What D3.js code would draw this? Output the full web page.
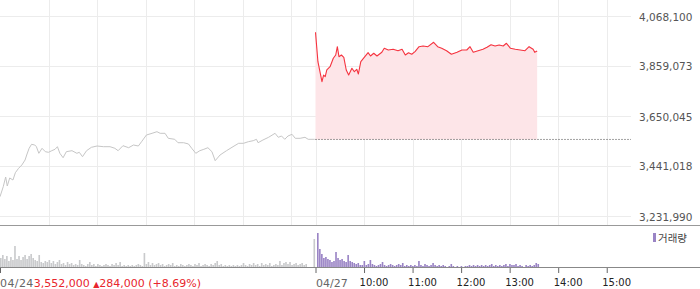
<!DOCTYPE html>
<html>
<head>
<meta charset="utf-8">
<script src="https://cdn.jsdelivr.net/npm/d3@7"></script>
<style>
  body { margin: 0; background: #fff; }
  svg { display: block; font-family: "DejaVu Sans", sans-serif; }
</style>
</head>
<body>
<svg id="chart" width="700" height="289"></svg>
<script>
// labels
const prevDayLabel = '04/24';
const todayLabel = '04/27';
const hourLabels = ['10:00', '11:00', '12:00', '13:00', '14:00', '15:00'];
const priceTicks = [3231990, 3441018, 3650045, 3859073, 4068100];
const basePrice = 3552000;
const lastPrice = '3,552,000';
const changeAbs = '284,000';
const changePct = '(+8.69%)';
const legendLabel = '거래량';

// minutes since 09:00, one session = 390 min
const prevTimes = [0, 4, 7, 9, 12, 16, 19, 23, 27, 31, 33, 36, 39, 43, 45, 48, 52, 56, 60, 64,
  68, 71, 74, 78, 82, 89, 95, 98, 102, 107, 113, 120, 128, 136, 142, 146, 152, 159, 165, 171,
  175, 181, 188, 194, 198, 204, 208, 216, 220, 227, 233, 237, 242, 247, 252, 257, 262, 266, 272, 280,
  288, 295, 301, 307, 313, 317, 319, 325, 332, 340, 344, 348, 352, 356, 361, 365, 371, 377, 381, 389];
const prevPrices = [3312700, 3354500, 3395000, 3357400, 3390900, 3382500, 3413000, 3431400, 3445200, 3466100,
  3487000, 3515000, 3531700, 3528800, 3521700, 3494100, 3515000, 3500800, 3498300, 3505000,
  3510800, 3521700, 3494100, 3475700, 3500800, 3505000, 3494100, 3498300, 3479900, 3505000,
  3519200, 3524600, 3521700, 3521700, 3515000, 3505000, 3525900, 3517500, 3528800, 3524600,
  3542600, 3570600, 3577700, 3584400, 3577700, 3577700, 3556800, 3552600, 3538400, 3538400,
  3533000, 3515000, 3494100, 3505000, 3510800, 3517500, 3500800, 3463200, 3487000, 3505000,
  3521700, 3535900, 3535900, 3542600, 3546800, 3552600, 3538400, 3549700, 3561000, 3577700,
  3561000, 3566400, 3552600, 3566400, 3573500, 3556800, 3556800, 3561000, 3552600, 3552600];

const todayTimes = [0, 3, 8, 10, 12, 14, 18, 22, 25, 27, 29, 32, 35, 38, 41, 45, 48, 51, 53, 56,
  61, 65, 68, 72, 76, 82, 85, 90, 96, 102, 107, 111, 115, 119, 123, 128, 133, 139, 146, 151,
  156, 162, 168, 175, 181, 187, 191, 195, 201, 207, 212, 217, 222, 227, 232, 236, 241, 247, 253, 259,
  264, 269, 271, 274];
const todayPrices = [4000000, 3877000, 3793400, 3821400, 3814300, 3842400, 3856100, 3891300, 3905100, 3939800,
  3898000, 3905100, 3895400, 3842400, 3821400, 3849500, 3835200, 3845300, 3825600, 3877000,
  3898000, 3914700, 3900900, 3912200, 3900900, 3916300, 3933100, 3926000, 3928900, 3923000,
  3928900, 3905100, 3914700, 3908000, 3918900, 3939800, 3942700, 3939800, 3958200, 3939800,
  3933100, 3923000, 3908000, 3916300, 3926000, 3926000, 3939800, 3916300, 3923000, 3928900,
  3937200, 3948100, 3942700, 3946900, 3942700, 3954000, 3933100, 3928900, 3926000, 3923000,
  3939800, 3928900, 3916300, 3921800];

// volume per 2.5 min bucket (thousands)
const volStep = 2.5;
const prevVolumes = [10, 13, 9, 12, 7, 11, 8, 22, 9, 12,
  8, 11, 13, 9, 12, 14, 10, 8, 7, 13,
  6, 5, 7, 6, 8, 5, 7, 4, 6, 8,
  4, 5, 3, 6, 4, 5, 3, 4, 3, 8,
  4, 3, 2, 4, 6, 3, 4, 2, 4, 3,
  2, 3, 4, 3, 2, 4, 3, 5, 3, 6,
  2, 3, 2, 3, 2, 3, 2, 3, 4, 3,
  2, 15, 4, 6, 3, 5, 3, 4, 5, 3,
  4, 2, 3, 4, 3, 5, 2, 3, 2, 4,
  3, 2, 3, 4, 3, 2, 4, 3, 5, 2,
  3, 4, 3, 2, 4, 3, 5, 7, 3, 4,
  2, 3, 2, 3, 2, 3, 2, 3, 2, 3,
  5, 3, 2, 4, 3, 5, 3, 4, 2, 5,
  3, 4, 3, 5, 2, 3, 4, 3, 7, 3,
  5, 6, 4, 6, 3, 4, 5, 3, 4, 5,
  3, 4, 0, 0, 0, 29];
const todayVolumes = [35, 19, 14, 10, 11, 9, 8, 6, 7, 16,
  10, 8, 9, 7, 6, 13, 7, 6, 5, 4,
  5, 3, 3, 7, 3, 4, 8, 4, 3, 2,
  3, 4, 6, 3, 2, 3, 4, 3, 2, 3,
  4, 3, 5, 2, 3, 2, 3, 2, 3, 2,
  7, 3, 2, 4, 3, 2, 3, 5, 3, 2,
  3, 2, 3, 2, 1, 2, 4, 2, 1, 2,
  1, 2, 1, 2, 2, 3, 2, 3, 2, 3,
  2, 3, 2, 3, 2, 3, 4, 2, 3, 2,
  3, 2, 3, 4, 2, 4, 3, 3, 4, 2,
  3, 2, 1, 3, 2, 3, 2, 3, 5, 4];

const session = 390;
const plotRight = 631;
const svg = d3.select('#chart');

const x = d3.scaleLinear().domain([0, session * 2]).range([0, plotRight]);
const y = d3.scaleLinear().domain([priceTicks[0], priceTicks[4]]).range([216, 16]);
const yv = d3.scaleLinear().domain([0, 41]).range([268, 227]);

const hourGrid = [60, 120, 180, 240, 300, 360, 390, 450, 510, 570, 630, 690, 750];

// grid
svg.append('g')
  .attr('stroke', '#ececec')
  .selectAll('line')
  .data(hourGrid)
  .join('line')
  .attr('x1', (d) => Math.round(x(d)) + 0.5)
  .attr('x2', (d) => Math.round(x(d)) + 0.5)
  .attr('y1', 0)
  .attr('y2', 225);

svg.append('g')
  .attr('stroke', '#ececec')
  .selectAll('line')
  .data(priceTicks)
  .join('line')
  .attr('x1', 0)
  .attr('x2', plotRight)
  .attr('y1', (d) => Math.round(y(d)) + 0.5)
  .attr('y2', (d) => Math.round(y(d)) + 0.5);

const prevData = d3.zip(prevTimes, prevPrices);
const todayData = d3.zip(todayTimes, todayPrices);

const line = d3.line()
  .x((d) => x(d[0]))
  .y((d) => y(d[1]));

// today's fill to base price
svg.append('path')
  .datum(todayData)
  .attr('fill', '#fde5e8')
  .attr('d', d3.area()
    .x((d) => x(d[0] + session))
    .y0(y(basePrice))
    .y1((d) => y(d[1])));

svg.append('line')
  .attr('x1', x(session))
  .attr('x2', plotRight)
  .attr('y1', y(basePrice))
  .attr('y2', y(basePrice))
  .attr('stroke', '#444')
  .attr('stroke-dasharray', '1,2');

svg.append('path')
  .datum(prevData)
  .attr('fill', 'none')
  .attr('stroke', '#c6c6c6')
  .attr('stroke-width', 1)
  .attr('d', line);

svg.append('path')
  .datum(todayData)
  .attr('fill', 'none')
  .attr('stroke', '#f5333f')
  .attr('stroke-width', 1.1)
  .attr('stroke-linejoin', 'round')
  .attr('d', d3.line().x((d) => x(d[0] + session)).y((d) => y(d[1])));

// price labels
svg.append('g')
  .attr('transform', 'translate(639,0)')
  .call(d3.axisRight(y).tickValues(priceTicks).tickSize(0).tickPadding(0).tickFormat(d3.format(',')))
  .call((g) => g.select('.domain').remove())
  .call((g) => g.selectAll('text')
    .attr('font-family', '"DejaVu Sans", sans-serif')
    .attr('font-size', 10.5)
    .attr('fill', '#555')
    .attr('dy', '0.38em'));

// panel divider
svg.append('line')
  .attr('x1', 0).attr('x2', 700)
  .attr('y1', 225.5).attr('y2', 225.5)
  .attr('stroke', '#999');

// volume
const barW = x(volStep) - x(0);
svg.append('g')
  .attr('fill', '#c9cacc')
  .selectAll('rect')
  .data(prevVolumes)
  .join('rect')
  .attr('x', (d, i) => x(i * volStep))
  .attr('width', barW - 0.4)
  .attr('y', (d) => yv(d))
  .attr('height', (d) => yv(0) - yv(d));

svg.append('g')
  .attr('fill', '#9a84c5')
  .selectAll('rect')
  .data(todayVolumes)
  .join('rect')
  .attr('x', (d, i) => x(session + i * volStep) + 1.5)
  .attr('width', barW - 0.4)
  .attr('y', (d) => yv(d))
  .attr('height', (d) => yv(0) - yv(d));

// legend
svg.append('rect')
  .attr('x', 653).attr('y', 233)
  .attr('width', 3).attr('height', 9)
  .attr('fill', '#9a84c5');
svg.append('text')
  .attr('x', 658).attr('y', 241.5)
  .attr('font-family', '"Noto Sans CJK KR", sans-serif')
  .attr('font-size', 10.5)
  .attr('fill', '#444')
  .text(legendLabel);

// time axis
svg.append('line')
  .attr('x1', 0).attr('x2', 700)
  .attr('y1', 267.5).attr('y2', 267.5)
  .attr('stroke', '#888');

const axisTicks = [0, session].concat(d3.range(1, 7).map((h) => session + h * 60));
const tickText = (d) => {
  if (d === 0) return '';
  if (d === session) return todayLabel;
  return hourLabels[(d - session) / 60 - 1];
};

svg.append('g')
  .attr('transform', 'translate(0,268)')
  .call(d3.axisBottom(x).tickValues(axisTicks).tickSize(5).tickFormat(tickText))
  .call((g) => g.select('.domain').remove())
  .call((g) => g.selectAll('.tick line').attr('stroke', '#666'))
  .call((g) => g.selectAll('.tick text')
    .attr('font-family', '"DejaVu Sans", sans-serif')
    .attr('font-size', (d) => (d === session ? 11 : 10))
    .attr('y', 11)
    .attr('x', (d) => (d === session ? 0 : -5))
    .attr('fill', (d) => (d === session ? '#666' : '#222'))
    .attr('text-anchor', 'start'));

const info = svg.append('text')
  .attr('x', 0).attr('y', 287)
  .attr('font-size', 11)
  .attr('fill', '#e8262d');
info.append('tspan').attr('fill', '#666').attr('letter-spacing', 0.4).text(prevDayLabel);
info.append('tspan').text(lastPrice + ' ');
info.append('tspan').attr('font-size', 8).text('▲');
info.append('tspan').text(changeAbs + ' ' + changePct);
</script>
</body>
</html>
